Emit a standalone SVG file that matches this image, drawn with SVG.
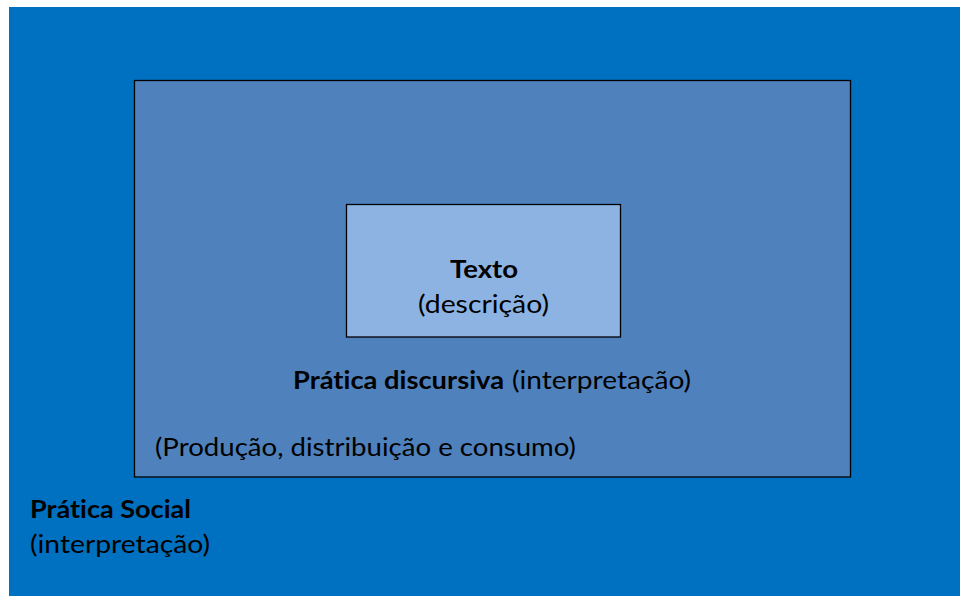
<svg xmlns="http://www.w3.org/2000/svg" width="960" height="596" viewBox="0 0 960 596">
<style>
text{font-family:Lato,"Open Sans","Liberation Sans",sans-serif;font-size:25px;fill:#000;font-variant-ligatures:none}
.b{font-weight:bold}
.box{stroke:#000;stroke-width:1.3}
</style>
<rect width="960" height="596" fill="#fff"/>
<g id="pratica-social">
<rect x="9" y="7" width="951" height="589" fill="#0070C0"/>
<text x="30" y="518" class="b" textLength="161" lengthAdjust="spacingAndGlyphs">Prática Social</text>
<text x="30" y="553" textLength="180" lengthAdjust="spacingAndGlyphs">(interpretação)</text>
</g>
<g id="pratica-discursiva">
<rect class="box" x="134.5" y="80.5" width="716" height="396.5" fill="#4F81BD"/>
<text x="293" y="389"><tspan class="b" textLength="211" lengthAdjust="spacingAndGlyphs">Prática discursiva</tspan><tspan x="512" textLength="179" lengthAdjust="spacingAndGlyphs">(interpretação)</tspan></text>
<text x="155" y="456" textLength="421" lengthAdjust="spacingAndGlyphs">(Produção, distribuição e consumo)</text>
</g>
<g id="texto">
<rect class="box" x="346.5" y="204.5" width="274" height="132.5" fill="#8DB3E2"/>
<text x="450" y="278" class="b" textLength="68" lengthAdjust="spacingAndGlyphs">Texto</text>
<text x="418" y="313" textLength="131" lengthAdjust="spacingAndGlyphs">(descrição)</text>
</g>
<g id="connectors"></g>
</svg>
